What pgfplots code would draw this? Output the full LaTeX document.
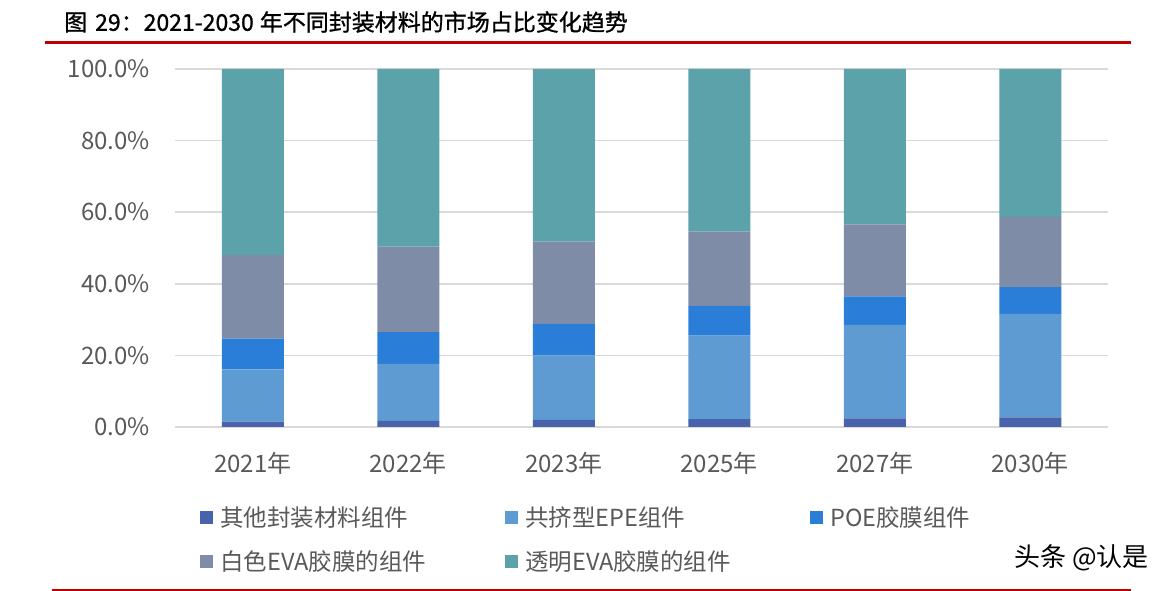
\documentclass[border=0pt]{standalone}
\usepackage{pgfplots}
\pgfplotsset{compat=1.18}
\usepackage{fontspec}
\setmainfont{Noto Sans CJK SC}
\newfontfamily\titlefont[FakeBold=1]{Noto Sans CJK SC}
\definecolor{cOther}{HTML}{4863AB}
\definecolor{cEPE}{HTML}{5E9BD2}
\definecolor{cPOE}{HTML}{2B7ED8}
\definecolor{cWhite}{HTML}{7F8CA8}
\definecolor{cTrans}{HTML}{5BA2AB}
\definecolor{txtgray}{HTML}{595959}
\definecolor{gridgray}{HTML}{D9D9D9}
\definecolor{redline}{HTML}{C00000}
\begin{document}
\begin{tikzpicture}[x=1pt,y=1pt]
\path[use as bounding box] (0,0) rectangle (1167,591);
\draw[redline, line width=2.5pt] (45,548.5) -- (1131,548.5);
\draw[redline, line width=2pt] (52,1) -- (1131,1);
\node[anchor=west, inner sep=0pt, font=\fontsize{23}{26}\selectfont\titlefont] at (64,569) {图\hspace{8pt}29：2021-2030\hspace{6pt}年不同封装材料的市场占比变化趋势};
\node[anchor=east, inner sep=0pt, font=\fontsize{26}{30}\selectfont] at (1149,33) {头条 @认是};
\begin{axis}[
  at={(175pt,164pt)}, anchor=south west,
  width=933pt, height=358pt, scale only axis,
  ybar stacked, bar width=62pt,
  xmin=-0.5, xmax=5.5, ymin=0, ymax=100,
  xtick={0,1,2,3,4,5},
  xticklabels={2021年,2022年,2023年,2025年,2027年,2030年},
  ytick={0,20,40,60,80,100},
  yticklabels={0.0\%,20.0\%,40.0\%,60.0\%,80.0\%,100.0\%},
  ymajorgrids, grid style={gridgray, line width=1.5pt},
  axis line style={draw=none},
  tick style={draw=none}, major tick length=0pt,
  xticklabel style={font=\fontsize{24}{28}\selectfont, text=txtgray, inner sep=0pt, yshift=-25pt},
  yticklabel style={font=\fontsize{24}{28}\selectfont, text=txtgray, inner sep=0pt, xshift=-25pt},
  legend columns=3,
  legend image code/.code={\fill[#1] (0pt,2.4pt) rectangle (13pt,15.4pt);},
  legend style={at={(0.0268,-0.2207)}, anchor=north west, draw=none, fill=none,
    inner sep=0pt, column sep=0pt, row sep=23pt,
    nodes={inner sep=0pt, text depth=0.15em},
    cells={anchor=base west},
    font=\fontsize{23.5}{28}\selectfont, text=txtgray},
]
\addplot[fill=cOther, draw=none] coordinates {(0,1.5) (1,1.7) (2,2.0) (3,2.2) (4,2.4) (5,2.7)};
\addlegendentry{\hspace*{7pt}\makebox[285pt][l]{其他封装材料组件}}
\addplot[fill=cEPE, draw=none] coordinates {(0,14.6) (1,15.9) (2,18.0) (3,23.3) (4,26.1) (5,28.9)};
\addlegendentry{\hspace*{7pt}\makebox[285pt][l]{共挤型EPE组件}}
\addplot[fill=cPOE, draw=none] coordinates {(0,8.6) (1,8.9) (2,8.8) (3,8.3) (4,8.0) (5,7.5)};
\addlegendentry{\hspace*{7pt}\makebox[285pt][l]{POE胶膜组件}}
\addplot[fill=cWhite, draw=none] coordinates {(0,23.3) (1,23.9) (2,23.0) (3,20.8) (4,20.1) (5,19.6)};
\addlegendentry{\hspace*{7pt}\makebox[285pt][l]{白色EVA胶膜的组件}}
\addplot[fill=cTrans, draw=none] coordinates {(0,52.0) (1,49.6) (2,48.2) (3,45.4) (4,43.4) (5,41.3)};
\addlegendentry{\hspace*{7pt}\makebox[285pt][l]{透明EVA胶膜的组件}}
\end{axis}
\end{tikzpicture}
\end{document}
